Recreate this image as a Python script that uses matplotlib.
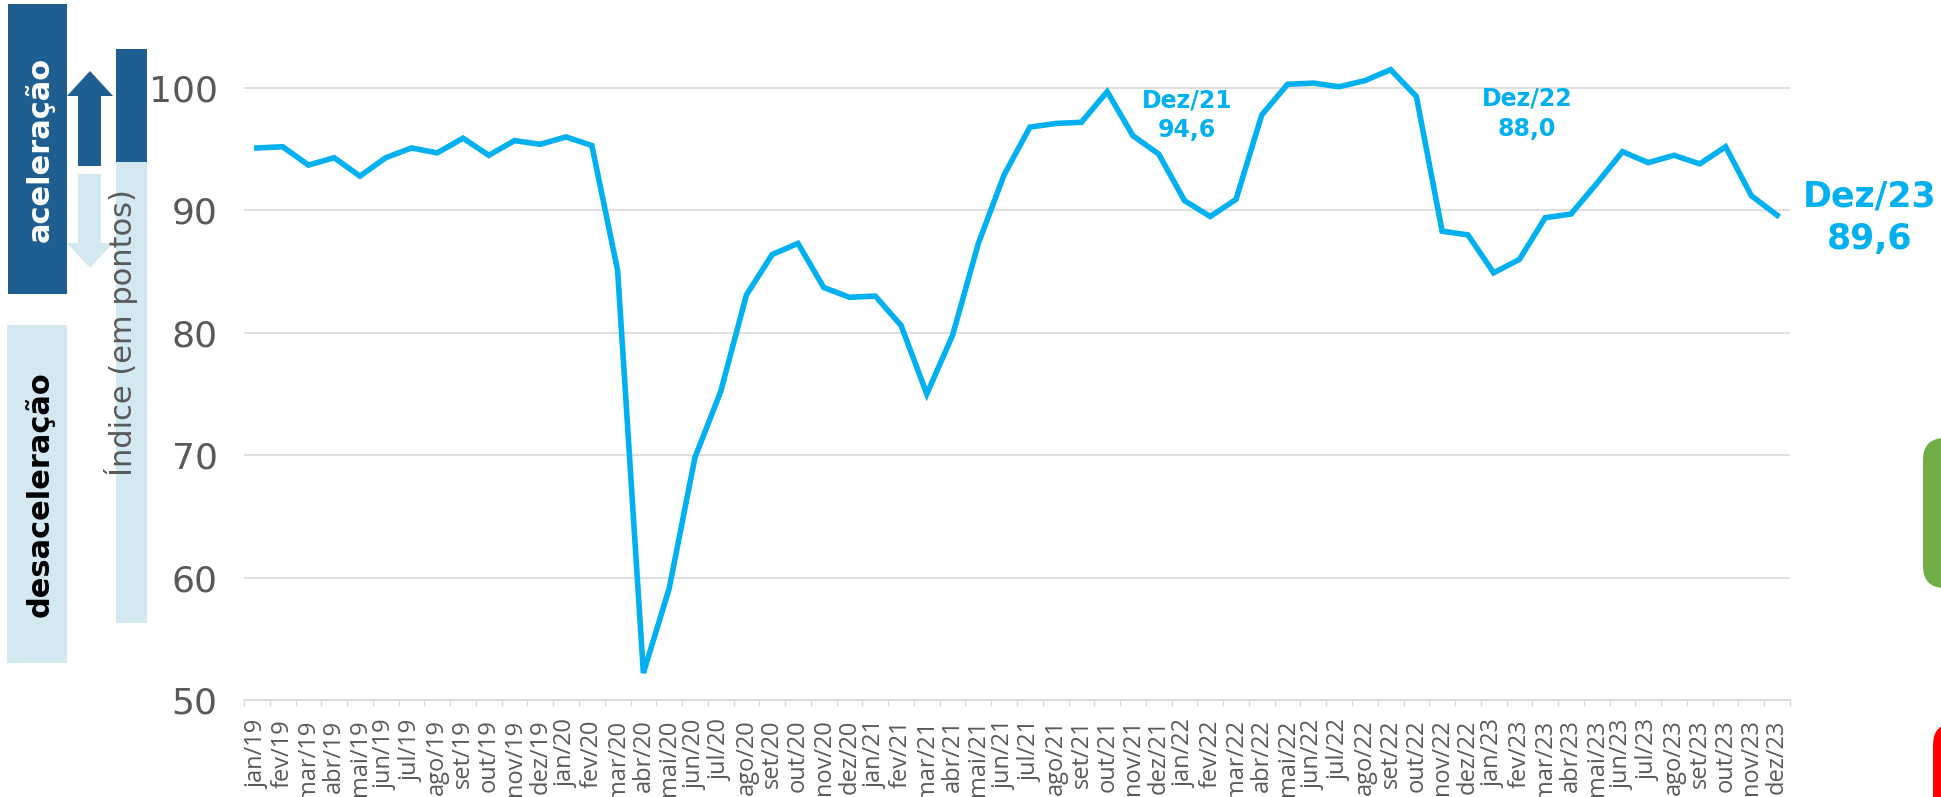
import matplotlib.pyplot as plt
from matplotlib.patches import Rectangle, Polygon, FancyBboxPatch

months = ["jan", "fev", "mar", "abr", "mai", "jun", "jul", "ago", "set", "out", "nov", "dez"]
years = ["19", "20", "21", "22", "23"]
labels = [f"{m}/{y}" for y in years for m in months]

v2019 = [95.1, 95.2, 93.7, 94.3, 92.8, 94.3, 95.1, 94.7, 95.9, 94.5, 95.7, 95.4]
v2020 = [96.0, 95.3, 85.1, 52.2, 59.1, 69.8, 75.2, 83.1, 86.4, 87.3, 83.7, 82.9]
v2021 = [83.0, 80.6, 75.0, 79.8, 87.3, 92.9, 96.8, 97.1, 97.2, 99.7, 96.1, 94.6]
v2022 = [90.8, 89.5, 90.9, 97.8, 100.3, 100.4, 100.1, 100.6, 101.5, 99.3, 88.3, 88.0]
v2023 = [84.9, 86.0, 89.4, 89.7, 92.2, 94.8, 93.9, 94.5, 93.8, 95.2, 91.2, 89.6]
values = v2019 + v2020 + v2021 + v2022 + v2023

highlights = [("Dez/21", 35), ("Dez/22", 47), ("Dez/23", 59)]

LINE = "#00B0F0"
DARK = "#1F5E90"
LIGHT = "#D3E8F1"
GRAY = "#595959"
GRID = "#D9D9D9"

W, H = 1941, 797
fig = plt.figure(figsize=(W / 100, H / 100), dpi=100)

# overlay in pixel coordinates for the decorative shapes
bg = fig.add_axes([0, 0, 1, 1], zorder=0)
bg.set_xlim(0, W)
bg.set_ylim(H, 0)
bg.axis("off")

bg.add_patch(Rectangle((8, 4), 59, 290, color=DARK, lw=0))
bg.add_patch(Rectangle((7, 325), 60, 338, color=LIGHT, lw=0))
bg.add_patch(Polygon([(90, 71), (113, 96), (101, 96), (101, 166), (78, 166), (78, 96), (67, 96)],
                     closed=True, color=DARK, lw=0))
bg.add_patch(Polygon([(78, 174), (101, 174), (101, 243), (113, 243), (90, 268), (67, 243), (78, 243)],
                     closed=True, color=LIGHT, lw=0))
bg.add_patch(Rectangle((116, 49), 31, 113, color=DARK, lw=0))
bg.add_patch(Rectangle((116, 162), 31, 461, color=LIGHT, lw=0))
bg.text(40, 149, "aceleração", rotation=90, ha="center", va="center",
        color="white", fontsize=22, fontweight="bold")
bg.text(40, 494, "desaceleração", rotation=90, ha="center", va="center",
        color="black", fontsize=22, fontweight="bold")

bg.add_patch(FancyBboxPatch((1923, 438), 80, 150, boxstyle="round,pad=0,rounding_size=22",
                            color="#70AD47", lw=0))
bg.add_patch(FancyBboxPatch((1933, 723), 80, 120, boxstyle="round,pad=0,rounding_size=22",
                            color="#FF0000", lw=0))

# main chart
ax = fig.add_axes([244 / W, 1 - 700 / H, 1546 / W, (700 - 2.3) / H], zorder=1)
ax.set_facecolor("none")
x = list(range(len(values)))
ax.plot(x, values, color=LINE, lw=4, solid_joinstyle="miter", zorder=3)

ax.set_xlim(-0.5, len(values) - 0.5)
ax.set_ylim(50, 107)
ax.set_yticks([50, 60, 70, 80, 90, 100])
ax.yaxis.grid(True, color=GRID, lw=1.2)
ax.set_axisbelow(True)
for s in ["top", "right", "left"]:
    ax.spines[s].set_visible(False)
ax.spines["bottom"].set_color(GRID)
ax.spines["bottom"].set_linewidth(1.2)

ax.set_xticks(x)
ax.set_xticklabels(labels, rotation=90, fontsize=17, color=GRAY,
                   family=["Open Sans", "DejaVu Sans"])
ax.set_xticks([i - 0.5 for i in range(len(values) + 1)], minor=True)
ax.tick_params(axis="x", which="major", length=0, pad=14)
ax.tick_params(axis="x", which="minor", length=4.5, width=1, color=GRID)
ax.tick_params(axis="y", length=0, pad=19, labelsize=26, labelcolor=GRAY)

ax.set_ylabel("Índice (em pontos)", fontsize=22, color=GRAY)
ax.yaxis.set_label_coords((138 - 244) / 1546, (700 - 333) / (700 - 2.3))

# highlighted December values
for (name, i), (dx, dy, fs) in zip(highlights, [(1.1, 97.8, 17), (2.3, 97.9, 17), (3.6, 89.4, 25)]):
    ax.text(i + dx, dy, f"{name}\n{values[i]:.1f}".replace(".", ","), ha="center", va="center",
            color=LINE, fontsize=fs, fontweight="bold", linespacing=1.3, clip_on=False)

fig.savefig("out.png", dpi=100)
